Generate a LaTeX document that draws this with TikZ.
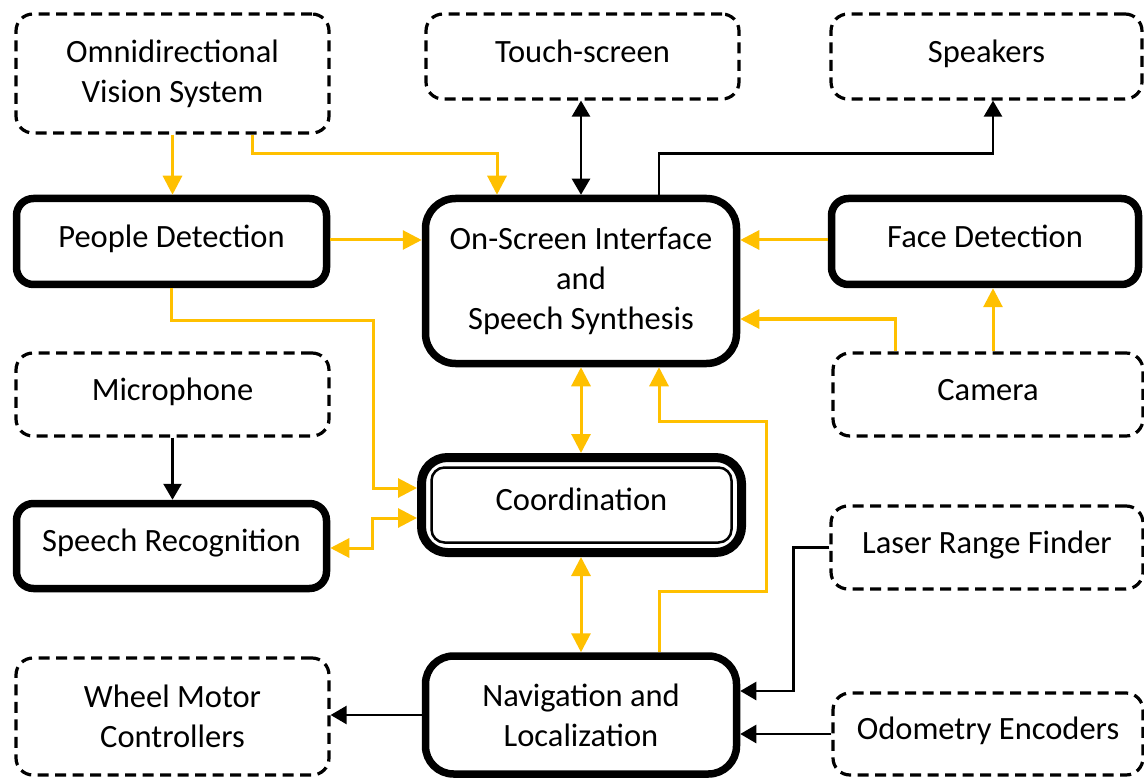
\documentclass[tikz,border=0pt]{standalone}
\usepackage{fontspec}
\setmainfont{Carlito}
\usetikzlibrary{arrows.meta,calc}
\definecolor{amber}{HTML}{FFC000}

\begin{document}
\begin{tikzpicture}[x=1pt,y=-1pt,
  box/.style={rectangle, align=center, font=\fontsize{32.5}{40}\selectfont, inner sep=0pt},
  oneline/.style={text height=23pt, text depth=11.5pt},
  ext/.style={box, draw, line width=3.2pt, dash pattern=on 11pt off 6.5pt, rounded corners=17pt},
  mod/.style={box, draw, line width=7.5pt, rounded corners=17pt},
  oarr/.style={draw=amber, line width=3pt, -{Triangle[length=19pt,width=19pt]}},
  oboth/.style={oarr, {Triangle[length=19pt,width=19pt]}-{Triangle[length=19pt,width=19pt]}},
  barr/.style={draw=black, line width=2.5pt, -{Triangle[length=16pt,width=18pt]}},
  bboth/.style={barr, {Triangle[length=16pt,width=18pt]}-{Triangle[length=16pt,width=18pt]}},
]
\useasboundingbox (0,0) rectangle (1144,778);

% sensors and actuators (dashed)
\node[ext, minimum width=313pt, minimum height=119pt] (omni) at (172.5,73.5) {Omnidirectional\\Vision System};
\node[ext, oneline, minimum width=313pt, minimum height=85pt] (touch) at (582.5,56.5) {Touch-screen};
\node[ext, oneline, minimum width=311pt, minimum height=85pt] (speakers) at (986.5,56.5) {Speakers};
\node[ext, oneline, minimum width=313pt, minimum height=83pt] (mic) at (172.5,394.5) {Microphone};
\node[ext, oneline, minimum width=310pt, minimum height=83pt] (camera) at (988,394.5) {Camera};
\node[ext, oneline, minimum width=312pt, minimum height=83pt] (laser) at (987,547.5) {Laser Range Finder};
\node[ext, minimum width=313pt, minimum height=117pt] (wheel) at (172.5,716.5) {Wheel Motor\\Controllers};
\node[ext, oneline, minimum width=310pt, minimum height=82pt] (odo) at (988,734) {Odometry Encoders};

% software modules (solid)
\node[mod, oneline, minimum width=310pt, minimum height=86pt] (people) at (171.5,241.5) {People Detection};
\node[mod, minimum width=311pt, minimum height=165pt, rounded corners=30pt] (onscr) at (581,281) {On-Screen Interface\\and\\Speech Synthesis};
\node[mod, oneline, minimum width=307pt, minimum height=86pt] (face) at (985,241.5) {Face Detection};
\node[mod, oneline, minimum width=310pt, minimum height=85pt] (speech) at (171.5,546) {Speech Recognition};
\node[mod, minimum width=311pt, minimum height=118pt, rounded corners=28pt] (nav) at (581,715) {Navigation and\\Localization};

% coordination module with double frame
\node[mod, oneline, line width=9pt, minimum width=320pt, minimum height=95pt, rounded corners=26pt] (coord) at (581.5,505) {Coordination};
\draw[line width=2.5pt, rounded corners=13pt]
  ([shift={(14.5pt,-14.5pt)}]coord.north west) rectangle ([shift={(-14.5pt,14.5pt)}]coord.south east);

% connectors
\draw[oarr] (omni.south) -- (omni.south |- people.north);
\draw[oarr] ([xshift=80pt]omni.south) -- ++(0,19) -| ([xshift=-84pt]onscr.north);
\draw[bboth] (onscr.north |- touch.south) -- (onscr.north);
\draw[barr] ([xshift=78pt]onscr.north) -- ++(0,-41) -| ([xshift=6.5pt]speakers.south);
\draw[oarr] ([yshift=1.5pt]people.east) -- ([yshift=1.5pt]people.east -| onscr.west);
\draw[oarr] ([yshift=1.5pt]face.west) -- ([yshift=1.5pt]face.west -| onscr.east);
\draw[oarr] ([xshift=5pt]camera.north) -- ([xshift=5pt]camera.north |- face.south);
\draw[oarr] ([xshift=-93pt]camera.north) |- ([yshift=-38pt]onscr.east);
\draw[oboth] (onscr.south) -- (onscr.south |- coord.north);
\draw[oarr] (people.south) -- ++(0,32) -| ([xshift=-44pt,yshift=17pt]coord.west) -- ([yshift=17pt]coord.west);
\draw[barr] (mic.south) -- (mic.south |- speech.north);
\draw[oboth] ([yshift=-2pt]speech.east) -- ++(42,0) |- ([yshift=-13pt]coord.west);
\draw[oboth] (coord.south -| nav.north) -- (nav.north);
\draw[oarr] ([xshift=78pt]nav.north) -- ++(0,-61) -- ++(107,0) -- ++(0,-170) -| ([xshift=78pt]onscr.south);
\draw[barr] (laser.west) -- ++(-36,0) |- ([yshift=24pt]nav.east);
\draw[barr] (odo.west) -- (odo.west -| nav.east);
\draw[barr] (nav.west) -- (nav.west -| wheel.east);
\end{tikzpicture}
\end{document}
